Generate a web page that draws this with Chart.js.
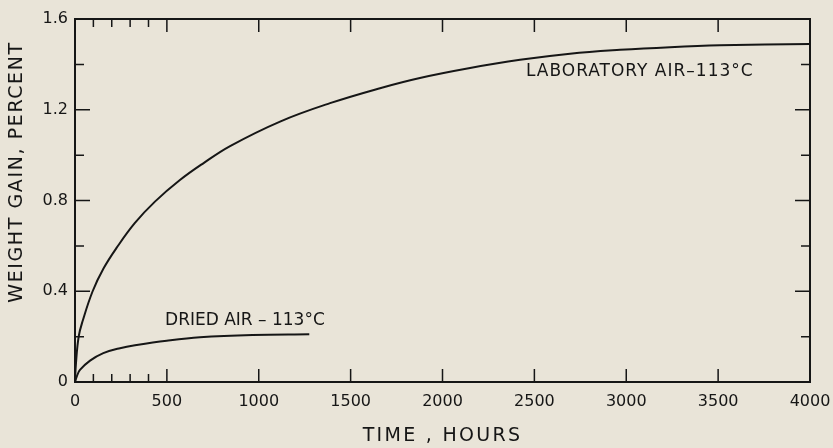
<!DOCTYPE html>
<html>
<head>
<meta charset="utf-8">
<script src="https://cdn.jsdelivr.net/npm/chart.js@4.4.0/dist/chart.umd.min.js"></script>
<style>
  html, body { margin: 0; padding: 0; background: #e9e4d8; }
  #wrap { width: 833px; height: 448px; }
</style>
</head>
<body>
<div id="wrap"><canvas id="myChart"></canvas></div>
<script>
// values
const labHours = [0, 5, 20, 42, 96, 155, 227, 325, 435, 571, 700, 844, 1116, 1388, 1660, 1877, 2150, 2422, 2694, 2966, 3238, 3510, 4000];
const labGain = [0, 0.08, 0.2, 0.27, 0.4, 0.5, 0.592, 0.7, 0.795, 0.89, 0.965, 1.04, 1.148, 1.229, 1.295, 1.34, 1.384, 1.42, 1.447, 1.464, 1.476, 1.484, 1.49];

const driedHours = [0, 10, 27, 82, 154, 245, 336, 499, 680, 966, 1275];
const driedGain = [0, 0.025, 0.053, 0.094, 0.127, 0.149, 0.163, 0.182, 0.197, 0.207, 0.21];

const xTicks = [0, 500, 1000, 1500, 2000, 2500, 3000, 3500, 4000];
const xMinorTicks = [100, 200, 300, 400];
const yTicks = [0, 0.4, 0.8, 1.2, 1.6];
const yMinorTicks = [0.2, 0.6, 1.0, 1.4];

const labLabel = 'LABORATORY AIR–113°C';
const driedLabel = 'DRIED AIR – 113°C';
const xTitle = 'TIME , HOURS';
const yTitle = 'WEIGHT GAIN, PERCENT';

const ink = '#161616';
const font = '"DejaVu Sans", sans-serif';

// frame, inward ticks, curve labels and axis titles
const paperPlugin = {
    id: 'paper',
    afterDraw(chart) {
        const c = chart.ctx;
        const a = chart.chartArea;
        const xs = chart.scales.x;
        const ys = chart.scales.y;
        c.save();
        c.strokeStyle = ink;
        c.lineWidth = 2;
        c.strokeRect(a.left, a.top, a.right - a.left, a.bottom - a.top);

        c.lineWidth = 1.5;
        c.beginPath();
        xTicks.concat(xMinorTicks).forEach(v => {
            const px = xs.getPixelForValue(v);
            const len = xMinorTicks.includes(v) ? 8 : 13;
            c.moveTo(px, a.bottom); c.lineTo(px, a.bottom - len);
            c.moveTo(px, a.top); c.lineTo(px, a.top + len);
        });
        yTicks.concat(yMinorTicks).forEach(v => {
            const py = ys.getPixelForValue(v);
            const len = yMinorTicks.includes(v) ? 9 : 15;
            c.moveTo(a.left, py); c.lineTo(a.left + len, py);
            c.moveTo(a.right, py); c.lineTo(a.right - len, py);
        });
        c.stroke();

        c.fillStyle = ink;
        c.textBaseline = 'middle';
        c.textAlign = 'left';
        c.font = '17px ' + font;
        c.letterSpacing = '1px';
        c.fillText(labLabel, xs.getPixelForValue(2454), ys.getPixelForValue(1.367));
        c.letterSpacing = '0px';
        c.fillText(driedLabel, xs.getPixelForValue(490), ys.getPixelForValue(0.269));

        c.font = '19px ' + font;
        c.textAlign = 'center';
        c.letterSpacing = '2.3px';
        c.fillText(xTitle, (a.left + a.right) / 2, 436);
        c.letterSpacing = '1.6px';
        c.translate(17, 172);
        c.rotate(-Math.PI / 2);
        c.fillText(yTitle, 0, 0);
        c.restore();
    }
};

const ctx = document.getElementById('myChart');
const myChart = new Chart(ctx, {
    type: 'line',
    data: {
        datasets: [{
            label: labLabel,
            data: labHours.map((h, i) => ({ x: h, y: labGain[i] })),
            borderColor: ink,
            borderWidth: 2,
            pointRadius: 0,
            tension: 0.4
        }, {
            label: driedLabel,
            data: driedHours.map((h, i) => ({ x: h, y: driedGain[i] })),
            borderColor: ink,
            borderWidth: 2,
            pointRadius: 0,
            tension: 0.4
        }]
    },
    options: {
        responsive: true,
        maintainAspectRatio: false,
        animation: false,
        layout: { padding: { top: 19, right: 23, left: 0, bottom: 0 } },
        plugins: {
            legend: { display: false },
            tooltip: { enabled: false }
        },
        scales: {
            x: {
                type: 'linear',
                min: 0,
                max: 4000,
                grid: { display: false, drawTicks: false },
                border: { display: false },
                afterBuildTicks: s => { s.ticks = xTicks.map(v => ({ value: v })); },
                afterFit: s => { s.height = 66; s.paddingLeft = 0; s.paddingRight = 0; },
                ticks: {
                    color: ink,
                    padding: 10,
                    maxRotation: 0,
                    font: { family: font, size: 16 },
                    callback: v => String(v)
                }
            },
            y: {
                min: 0,
                max: 1.6,
                grid: { display: false, drawTicks: false },
                border: { display: false },
                afterBuildTicks: s => { s.ticks = yTicks.map(v => ({ value: v })); },
                afterFit: s => { s.width = 75; s.paddingTop = 0; s.paddingBottom = 0; },
                ticks: {
                    color: ink,
                    padding: 7,
                    font: { family: font, size: 16 },
                    callback: v => v === 0 ? '0' : v.toFixed(1)
                }
            }
        }
    },
    plugins: [paperPlugin]
});
</script>
</body>
</html>
